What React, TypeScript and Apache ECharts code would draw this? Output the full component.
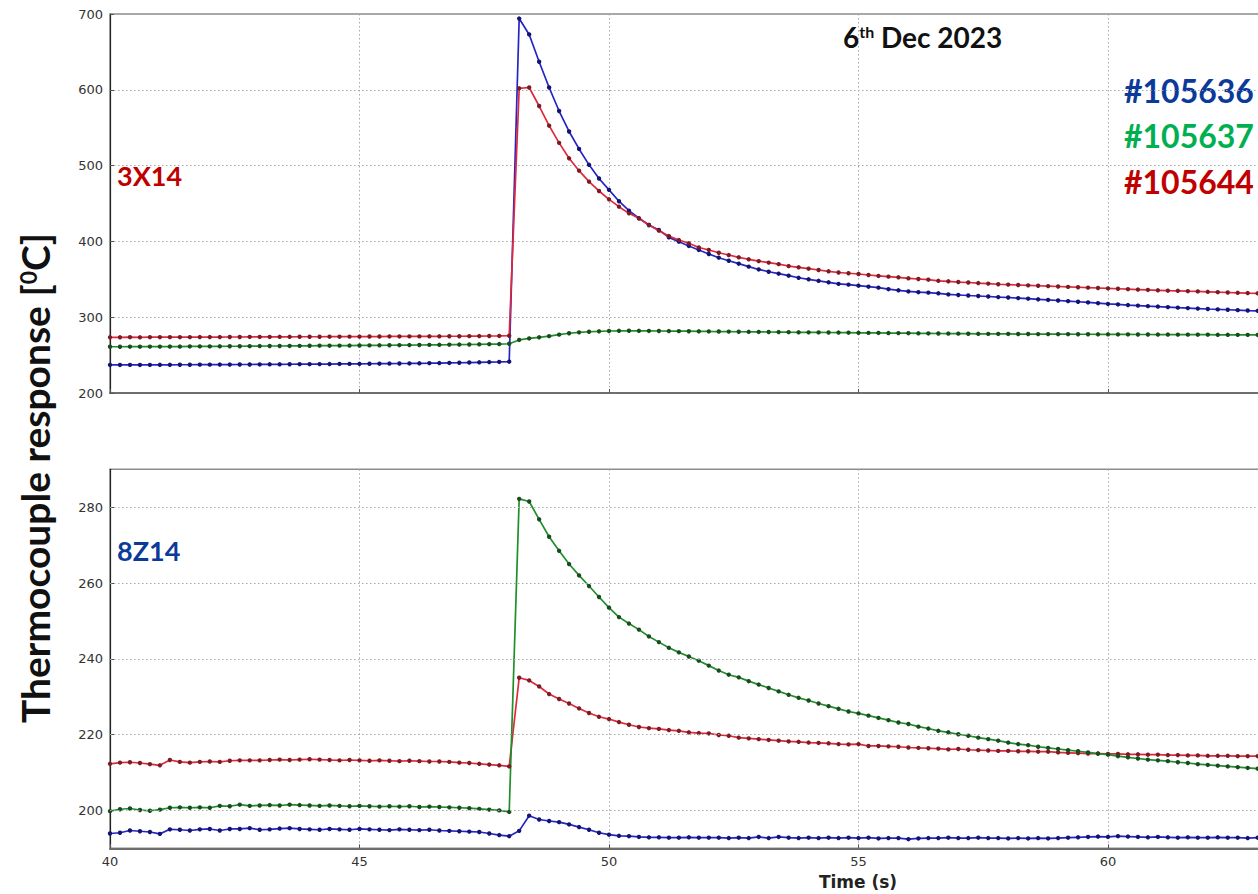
import React, { useEffect, useRef } from "react";
import * as echarts from "echarts";

// Sample times (s)
const TIME = [
  40.0, 40.2, 40.4, 40.6, 40.8, 41.0, 41.2, 41.4, 41.6, 41.8,
  42.0, 42.2, 42.4, 42.6, 42.8, 43.0, 43.2, 43.4, 43.6, 43.8,
  44.0, 44.2, 44.4, 44.6, 44.8, 45.0, 45.2, 45.4, 45.6, 45.8,
  46.0, 46.2, 46.4, 46.6, 46.8, 47.0, 47.2, 47.4, 47.6, 47.8,
  48.0, 48.2, 48.4, 48.6, 48.8, 49.0, 49.2, 49.4, 49.6, 49.8,
  50.0, 50.2, 50.4, 50.6, 50.8, 51.0, 51.2, 51.4, 51.6, 51.8,
  52.0, 52.2, 52.4, 52.6, 52.8, 53.0, 53.2, 53.4, 53.6, 53.8,
  54.0, 54.2, 54.4, 54.6, 54.8, 55.0, 55.2, 55.4, 55.6, 55.8,
  56.0, 56.2, 56.4, 56.6, 56.8, 57.0, 57.2, 57.4, 57.6, 57.8,
  58.0, 58.2, 58.4, 58.6, 58.8, 59.0, 59.2, 59.4, 59.6, 59.8,
  60.0, 60.2, 60.4, 60.6, 60.8, 61.0, 61.2, 61.4, 61.6, 61.8,
  62.0, 62.2, 62.4, 62.6, 62.8, 63.0, 63.2, 63.4, 63.6,
];

// Top panel: 3X14
const TOP_105644 = [
  273.5, 273.5, 273.6, 273.5, 273.6, 273.6, 273.7, 273.6, 273.7, 273.8,
  273.8, 273.8, 273.9, 273.9, 274.0, 274.0, 274.0, 274.1, 274.1, 274.2,
  274.2, 274.2, 274.3, 274.3, 274.4, 274.4, 274.5, 274.5, 274.6, 274.6,
  274.7, 274.7, 274.8, 274.8, 274.9, 274.9, 275.0, 275.1, 275.2, 275.3,
  275.5, 602, 603, 578.6, 552.7, 530, 509.6, 493.3, 478.8, 466.5,
  455.5, 445.8, 437, 430.5, 421.6, 414.2, 407, 401.8, 397.5, 392,
  388.7, 385, 382, 379, 376.4, 374, 372, 370, 367.5, 365.8,
  364, 362.3, 360.5, 359, 358, 357, 355.7, 354.4, 353.5, 352.6,
  351.3, 350.4, 349.5, 348, 347.3, 346.4, 345.8, 345, 344.3, 343.5,
  343, 342.5, 342, 341.5, 341, 340.5, 340, 339.5, 339, 338.5,
  338, 337.5, 337, 336.5, 336, 335.5, 335, 334.8, 334.3, 334,
  333.5, 333, 332.6, 332.2, 331.8, 331.5, 331, 330.7, 330.4,
];
const TOP_105636 = [
  237.0, 237.0, 237.1, 237.0, 237.1, 237.2, 237.2, 237.3, 237.3, 237.4,
  237.4, 237.5, 237.5, 237.6, 237.6, 237.7, 237.8, 237.8, 237.9, 238.0,
  238.0, 238.1, 238.2, 238.3, 238.4, 238.5, 238.6, 238.7, 238.8, 238.9,
  239.0, 239.2, 239.3, 239.5, 239.7, 239.9, 240.2, 240.5, 240.8, 241.0,
  241.3, 694, 673, 637, 603, 572, 545, 522, 501, 483,
  468, 453, 440.5, 430.5, 421.6, 415, 405.3, 399.6, 394, 388.7,
  383.4, 378.5, 374.5, 370.6, 366.7, 363, 360, 357.4, 354.8, 352,
  350, 348, 346, 344, 343, 341.6, 340.3, 339, 337, 335.5,
  334, 333, 332.4, 331.5, 330, 329.3, 328.6, 328, 327.3, 326.5,
  326, 325.2, 324.4, 323.6, 322.8, 322, 321.2, 320.4, 319.5, 318.5,
  317.5, 316.8, 316, 315.3, 314.6, 314, 313.3, 312.6, 312, 311.4,
  310.8, 310.3, 309.8, 309.3, 308.8, 308.4, 308, 307.7, 307.4,
];
const TOP_105637 = [
  261.0, 261.0, 261.1, 261.1, 261.2, 261.2, 261.3, 261.3, 261.4, 261.5,
  261.5, 261.6, 261.7, 261.7, 261.8, 261.9, 262.0, 262.0, 262.1, 262.2,
  262.3, 262.4, 262.4, 262.5, 262.6, 262.7, 262.8, 262.9, 263.0, 263.1,
  263.2, 263.3, 263.5, 263.6, 263.7, 263.9, 264.0, 264.2, 264.4, 264.6,
  265.0, 270, 272, 273.5, 275, 277, 278.8, 280, 280.8, 281.4,
  281.8, 282.0, 282.1, 282.0, 281.9, 281.8, 281.7, 281.6, 281.5, 281.4,
  281.2, 281.1, 281.0, 280.8, 280.7, 280.6, 280.5, 280.4, 280.2, 280.1,
  280.0, 279.9, 279.8, 279.7, 279.6, 279.4, 279.3, 279.2, 279.1, 279.0,
  278.9, 278.7, 278.6, 278.5, 278.4, 278.3, 278.2, 278.1, 278.0, 277.9,
  277.9, 277.8, 277.8, 277.7, 277.7, 277.6, 277.6, 277.5, 277.5, 277.4,
  277.4, 277.3, 277.3, 277.2, 277.2, 277.1, 277.1, 277.0, 277.0, 276.9,
  276.9, 276.8, 276.8, 276.7, 276.7, 276.6, 276.6, 276.5, 276.5,
];

// Bottom panel: 8Z14
const BOT_105644 = [
  212.3, 212.6, 212.7, 212.5, 212.2, 211.9, 213.3, 212.8, 212.6, 212.8,
  212.9, 212.8, 213.1, 213.2, 213.2, 213.2, 213.3, 213.4, 213.3, 213.4,
  213.5, 213.4, 213.3, 213.2, 213.3, 213.2, 213.1, 213.2, 213.1, 213.0,
  213.1, 213.0, 212.9, 212.9, 212.8, 212.6, 212.5, 212.3, 212.1, 211.9,
  211.6, 235, 234.3, 232.7, 230.7, 229.4, 228.2, 226.9, 225.7, 224.7,
  224.1, 223.3, 222.6, 222, 221.7, 221.5, 221.2, 221, 220.6, 220.4,
  220.3, 219.9, 219.7, 219.2, 219.0, 218.8, 218.6, 218.4, 218.2, 218.1,
  217.9, 217.8, 217.7, 217.5, 217.4, 217.5, 217.0, 217.0, 216.9, 216.8,
  216.6, 216.5, 216.4, 216.3, 216.1, 216.2, 216.0, 215.9, 215.8, 215.7,
  215.7, 215.6, 215.6, 215.5, 215.5, 215.3, 215.2, 215.1, 215.0, 215.0,
  214.9, 214.9, 214.8, 214.8, 214.7, 214.7, 214.6, 214.6, 214.5, 214.5,
  214.4, 214.4, 214.4, 214.3, 214.3, 214.3, 214.5, 214.4, 214.4,
];
const BOT_105637 = [
  199.8, 200.3, 200.5, 200.1, 199.9, 200.2, 200.7, 200.8, 200.7, 200.8,
  200.7, 201.2, 201.1, 201.5, 201.2, 201.3, 201.4, 201.3, 201.5, 201.4,
  201.3, 201.2, 201.3, 201.2, 201.1, 201.2, 201.1, 201.0, 201.1, 201.0,
  201.1, 200.9, 201.0, 200.9, 200.8, 200.7, 200.6, 200.4, 200.2, 200.0,
  199.6, 282.2, 281.5, 276.8, 272.2, 268.5, 265.0, 262.0, 259.2, 256.3,
  253.5, 251.0, 249.3, 247.7, 245.9, 244.4, 242.9, 241.7, 240.6, 239.5,
  238.2, 236.9, 235.8, 235.1, 234.1, 233.2, 232.3, 231.4, 230.5, 229.7,
  229.0, 228.2, 227.5, 226.8, 226.1, 225.6, 225.0, 224.4, 223.8, 223.2,
  222.8, 222.1, 221.6, 221.0, 220.6, 220.1, 219.7, 219.2, 218.8, 218.4,
  217.9, 217.5, 217.2, 216.8, 216.5, 216.2, 215.9, 215.6, 215.3, 215.0,
  214.7, 214.3, 214.0, 213.7, 213.4, 213.2, 213.0, 212.7, 212.5, 212.2,
  212.0, 211.8, 211.6, 211.4, 211.2, 211.0, 210.8, 210.6, 210.4,
];
const BOT_105636 = [
  193.9, 194.1, 194.7, 194.5, 194.3, 193.8, 195.0, 194.9, 194.7, 195.0,
  195.1, 194.7, 195.1, 195.1, 195.3, 194.9, 195.0, 195.2, 195.3, 195.1,
  195.0, 194.9, 195.1, 195.0, 194.9, 195.1, 195.0, 194.9, 194.8, 195.0,
  194.9, 194.8, 194.9, 194.7, 194.6, 194.5, 194.4, 194.3, 193.9, 193.5,
  193.2, 194.6, 198.6, 197.6, 197.2, 196.9, 196.3, 195.6, 194.9, 194.1,
  193.6, 193.3, 193.2, 193.0, 192.9, 192.9, 192.8, 192.8, 192.9, 192.8,
  192.8, 192.8, 192.7, 192.8, 192.7, 193.0, 192.7, 193.0, 192.8, 192.7,
  192.8, 192.7, 192.8, 192.7, 192.8, 192.7, 192.8, 192.6, 192.7, 192.7,
  192.4, 192.6, 192.7, 192.7, 192.8, 192.7, 192.7, 192.8, 192.7, 192.7,
  192.6, 192.7, 192.6, 192.7, 192.6, 192.7, 192.8, 192.9, 193.0, 193.1,
  193.0, 193.2, 193.1, 193.0, 192.9, 193.0, 192.9, 192.8, 192.9, 192.8,
  192.8, 192.9, 192.8, 192.8, 192.7, 192.8, 192.8, 192.8, 192.9,
];

const TOP_Y_TICKS = [200, 300, 400, 500, 600, 700];
const BOT_Y_TICKS = [200, 220, 240, 260, 280];
const X_TICKS = [40, 45, 50, 55, 60, 65];

const SHOTS = ["#105636", "#105637", "#105644"];
const SHOT_TEXT_COLORS = ["#0b3a9a", "#00b050", "#c00000"];

const LINE = { blue: "#2424c8", green: "#1f8f2c", red: "#e0283c" };
const MARK = { blue: "#141470", green: "#1c4a20", red: "#7a1c24" };

const AXIS_FONT = "'DejaVu Sans', sans-serif";
const BOLD_FONT = "Lato, 'Open Sans', sans-serif";

function mkSeries(name: string, values: number[], idx: number, key: "blue" | "green" | "red", extra: any = {}) {
  return {
    name,
    type: "line",
    xAxisIndex: idx,
    yAxisIndex: idx,
    data: TIME.map((t, i) => [t, values[i]]),
    showSymbol: true,
    symbol: "circle",
    symbolSize: 4.4,
    itemStyle: { color: MARK[key] },
    lineStyle: { color: LINE[key], width: 1.7 },
    emphasis: { disabled: true },
    ...extra,
  };
}

export default function App() {
  const ref = useRef<HTMLDivElement>(null);
  useEffect(() => {
    if (!ref.current) return;
    const chart = echarts.init(ref.current, undefined, { renderer: "svg" });
    const gridLine = { type: [1.5, 2.5], color: "#a8a8a8", width: 1 };
    const xAxisBase = (gi: number, showLabel: boolean) => ({
      gridIndex: gi,
      type: "value",
      min: X_TICKS[0],
      max: X_TICKS[X_TICKS.length - 1],
      interval: 5,
      axisLine: { show: true, lineStyle: { color: "#6e6e6e", width: 2 } },
      axisTick: { show: true, inside: true, length: 4, lineStyle: { color: "#555" } },
      axisLabel: { show: showLabel, showMaxLabel: false, color: "#333", fontSize: 13, fontFamily: AXIS_FONT, margin: 7 },
      splitLine: { show: true, lineStyle: gridLine },
    });
    const option: any = {
      animation: false,
      backgroundColor: "#ffffff",
      grid: [
        { left: 110, top: 14, height: 379, right: 2.5, show: true, borderColor: "#8c8c8c", borderWidth: 1.5, containLabel: false },
        { left: 110, top: 469.3, height: 379, right: 2.5, show: true, borderColor: "#8c8c8c", borderWidth: 1.5, containLabel: false },
      ],
      xAxis: [xAxisBase(0, false), xAxisBase(1, true)],
      yAxis: [
        {
          gridIndex: 0,
          type: "value",
          min: TOP_Y_TICKS[0],
          max: TOP_Y_TICKS[TOP_Y_TICKS.length - 1],
          interval: 100,
          axisLine: { show: true, lineStyle: { color: "#222", width: 1.2 } },
          axisTick: { show: true, inside: true, length: 4, lineStyle: { color: "#555" } },
          axisLabel: { color: "#333", fontSize: 13, fontFamily: AXIS_FONT, margin: 7 },
          splitLine: { show: true, lineStyle: gridLine },
        },
        {
          gridIndex: 1,
          type: "value",
          min: 190,
          max: 290,
          interval: 10,
          axisLine: { show: true, lineStyle: { color: "#222", width: 1.2 } },
          axisTick: { show: true, inside: true, length: 4, lineStyle: { color: "#555" }, customValues: BOT_Y_TICKS },
          axisLabel: {
            color: "#333",
            fontSize: 13,
            fontFamily: AXIS_FONT,
            margin: 7,
            customValues: BOT_Y_TICKS,
            formatter: (v: number) => (BOT_Y_TICKS.indexOf(v) >= 0 ? String(v) : ""),
          },
          splitLine: { show: false },
        },
      ],
      series: [
        mkSeries("#105637 3X14", TOP_105637, 0, "green"),
        mkSeries("#105636 3X14", TOP_105636, 0, "blue"),
        mkSeries("#105644 3X14", TOP_105644, 0, "red"),
        mkSeries("#105636 8Z14", BOT_105636, 1, "blue", {
          markLine: {
            silent: true,
            symbol: "none",
            label: { show: false },
            lineStyle: gridLine,
            data: BOT_Y_TICKS.map((v) => ({ yAxis: v })),
          },
        }),
        mkSeries("#105644 8Z14", BOT_105644, 1, "red"),
        mkSeries("#105637 8Z14", BOT_105637, 1, "green"),
      ],
      graphic: [
        {
          type: "text",
          x: 35,
          y: 478,
          rotation: Math.PI / 2,
          style: {
            text: "{a|Thermocouple response [}{s|0}{a|C]}",
            align: "center",
            verticalAlign: "middle",
            rich: {
              a: { fontFamily: BOLD_FONT, fontWeight: "bold", fontSize: 39, fill: "#111" },
              s: { fontFamily: BOLD_FONT, fontWeight: "bold", fontSize: 23, fill: "#111", padding: [0, 0, 14, 0] },
            },
          },
        },
        {
          type: "text",
          x: 843,
          y: 37,
          style: {
            text: "{a|6}{s|th}{a| Dec 2023}",
            verticalAlign: "middle",
            rich: {
              a: { fontFamily: BOLD_FONT, fontWeight: "bold", fontSize: 28, fill: "#111" },
              s: { fontFamily: BOLD_FONT, fontWeight: "bold", fontSize: 16, fill: "#111", padding: [0, 0, 11, 0] },
            },
          },
        },
        ...SHOTS.map((s, i) => ({
          type: "text",
          x: 1124,
          y: 90 + i * 45.5,
          style: {
            text: s,
            fontFamily: BOLD_FONT,
            fontWeight: "bold",
            fontSize: 32,
            fill: SHOT_TEXT_COLORS[i],
            verticalAlign: "middle",
          },
        })),
        {
          type: "text",
          x: 117,
          y: 175,
          style: { text: "3X14", fontFamily: BOLD_FONT, fontWeight: "bold", fontSize: 27, fill: "#c00000", verticalAlign: "middle" },
        },
        {
          type: "text",
          x: 117,
          y: 550,
          style: { text: "8Z14", fontFamily: BOLD_FONT, fontWeight: "bold", fontSize: 27, fill: "#0b3a9a", verticalAlign: "middle" },
        },
        {
          type: "text",
          x: 858,
          y: 882,
          style: {
            text: "Time (s)",
            fontFamily: AXIS_FONT,
            fontWeight: "bold",
            fontSize: 17,
            fill: "#222",
            align: "center",
            verticalAlign: "middle",
          },
        },
      ],
    };
    chart.setOption(option);
    return () => chart.dispose();
  }, []);
  return (
    <div style={{ position: "absolute", left: 0, top: 0, width: 1258, height: 894, overflow: "hidden", background: "#fff" }}>
      <div ref={ref} style={{ position: "absolute", left: 0, top: 0, width: 1360, height: 894 }} />
    </div>
  );
}
